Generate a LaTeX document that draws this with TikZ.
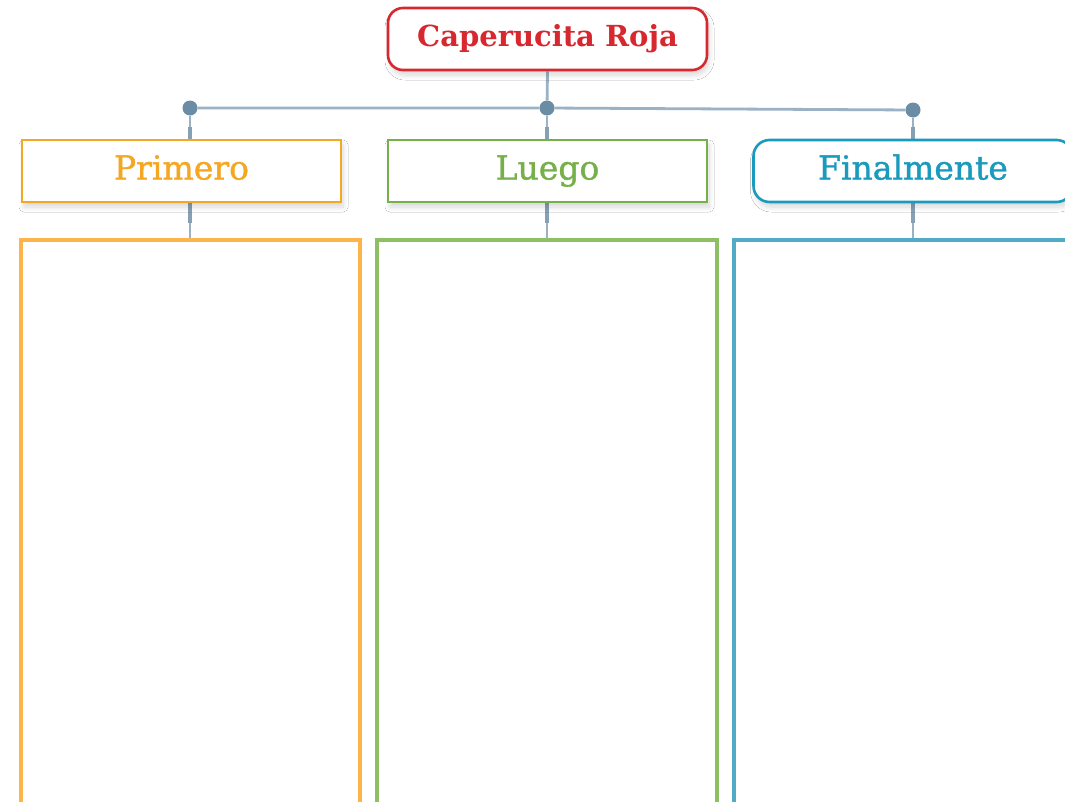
\documentclass[tikz,border=0pt]{standalone}
\usepackage{fontspec}
\setmainfont{DejaVu Serif}
\newfontfamily\lblfont[FakeBold=1.2]{DejaVu Serif}
\usetikzlibrary{shadows.blur,backgrounds}
\definecolor{tred}{HTML}{D7282F}
\definecolor{torange}{HTML}{F5A623}
\definecolor{tgreen}{HTML}{77B04A}
\definecolor{tblue}{HTML}{1A9BBE}
\definecolor{borange}{HTML}{FDB44B}
\definecolor{bgreen}{HTML}{8DC064}
\definecolor{bblue}{HTML}{52AAC7}
\definecolor{conn}{HTML}{9AB2C4}
\definecolor{connd}{HTML}{86A0B4}
\definecolor{dotc}{HTML}{6B8CA5}
\tikzset{
  lbl/.style={draw=#1, text=#1, line width=2.6pt, fill=white, minimum width=319pt, minimum height=62pt, inner sep=0pt,
    text height=24pt, text depth=7pt,
    font=\lblfont\fontsize{33}{38}\selectfont, blur shadow={shadow blur steps=10, shadow blur radius=5pt, shadow xshift=2pt, shadow yshift=-5pt, shadow opacity=16}},
  bigbox/.style={draw=#1, line width=3.5pt, anchor=north, minimum height=700pt, inner sep=0pt},
  conline/.style={draw=conn, line width=2.8pt},
  stub/.style={draw=connd, line width=4pt},
  jdot/.style={circle, fill=dotc, minimum size=15pt, inner sep=0pt}
}
\begin{document}
\begin{tikzpicture}[x=1pt,y=-1pt]
\useasboundingbox (0,0) rectangle (1065,801);
\clip (0,0) rectangle (1065,801);
% dots
\node[jdot] (d1) at (190,108) {};
\node[jdot] (d2) at (547,108) {};
\node[jdot] (d3) at (913,110) {};
% boxes
\node[lbl=tred, rounded corners=15pt, text height=22pt, font=\fontsize{29}{34}\selectfont\bfseries] (title) at (547.5,39) {Caperucita Roja};
\node[lbl=torange] (prim) at (181.5,171) {Primero};
\node[lbl=tgreen] (lueg) at (547.5,171) {Luego};
\node[lbl=tblue, rounded corners=16pt] (fin) at (913,171) {Finalmente};
\node[bigbox=borange, minimum width=339pt] (b1) at (190.5,238) {};
\node[bigbox=bgreen, minimum width=340pt] (b2) at (547,238) {};
\node[bigbox=bblue, minimum width=356pt] (b3) at (912,238) {};
% connectors
\begin{scope}[on background layer]
\fill[white] (0,0) rectangle (1065,801);
\draw[conline] (title.south) -- (d2);
\draw[conline] (d1) -- (d2) -- (d3);
\draw[conline] (d1) -- (d1 |- prim.north);
\draw[conline] (d2) -- (d2 |- lueg.north);
\draw[conline] (d3) -- (d3 |- fin.north);
\draw[stub] ([yshift=12pt]d1 |- prim.north) -- (d1 |- prim.north);
\draw[stub] ([yshift=12pt]d2 |- lueg.north) -- (d2 |- lueg.north);
\draw[stub] ([yshift=12pt]d3 |- fin.north) -- (d3 |- fin.north);
\draw[conline] (d1 |- prim.south) -- (d1 |- b1.north);
\draw[conline] (d2 |- lueg.south) -- (d2 |- b2.north);
\draw[conline] (d3 |- fin.south) -- (d3 |- b3.north);
\draw[stub] (d1 |- prim.south) -- ([yshift=-20pt]d1 |- prim.south);
\draw[stub] (d2 |- lueg.south) -- ([yshift=-20pt]d2 |- lueg.south);
\draw[stub] (d3 |- fin.south) -- ([yshift=-20pt]d3 |- fin.south);
\end{scope}
\end{tikzpicture}
\end{document}
